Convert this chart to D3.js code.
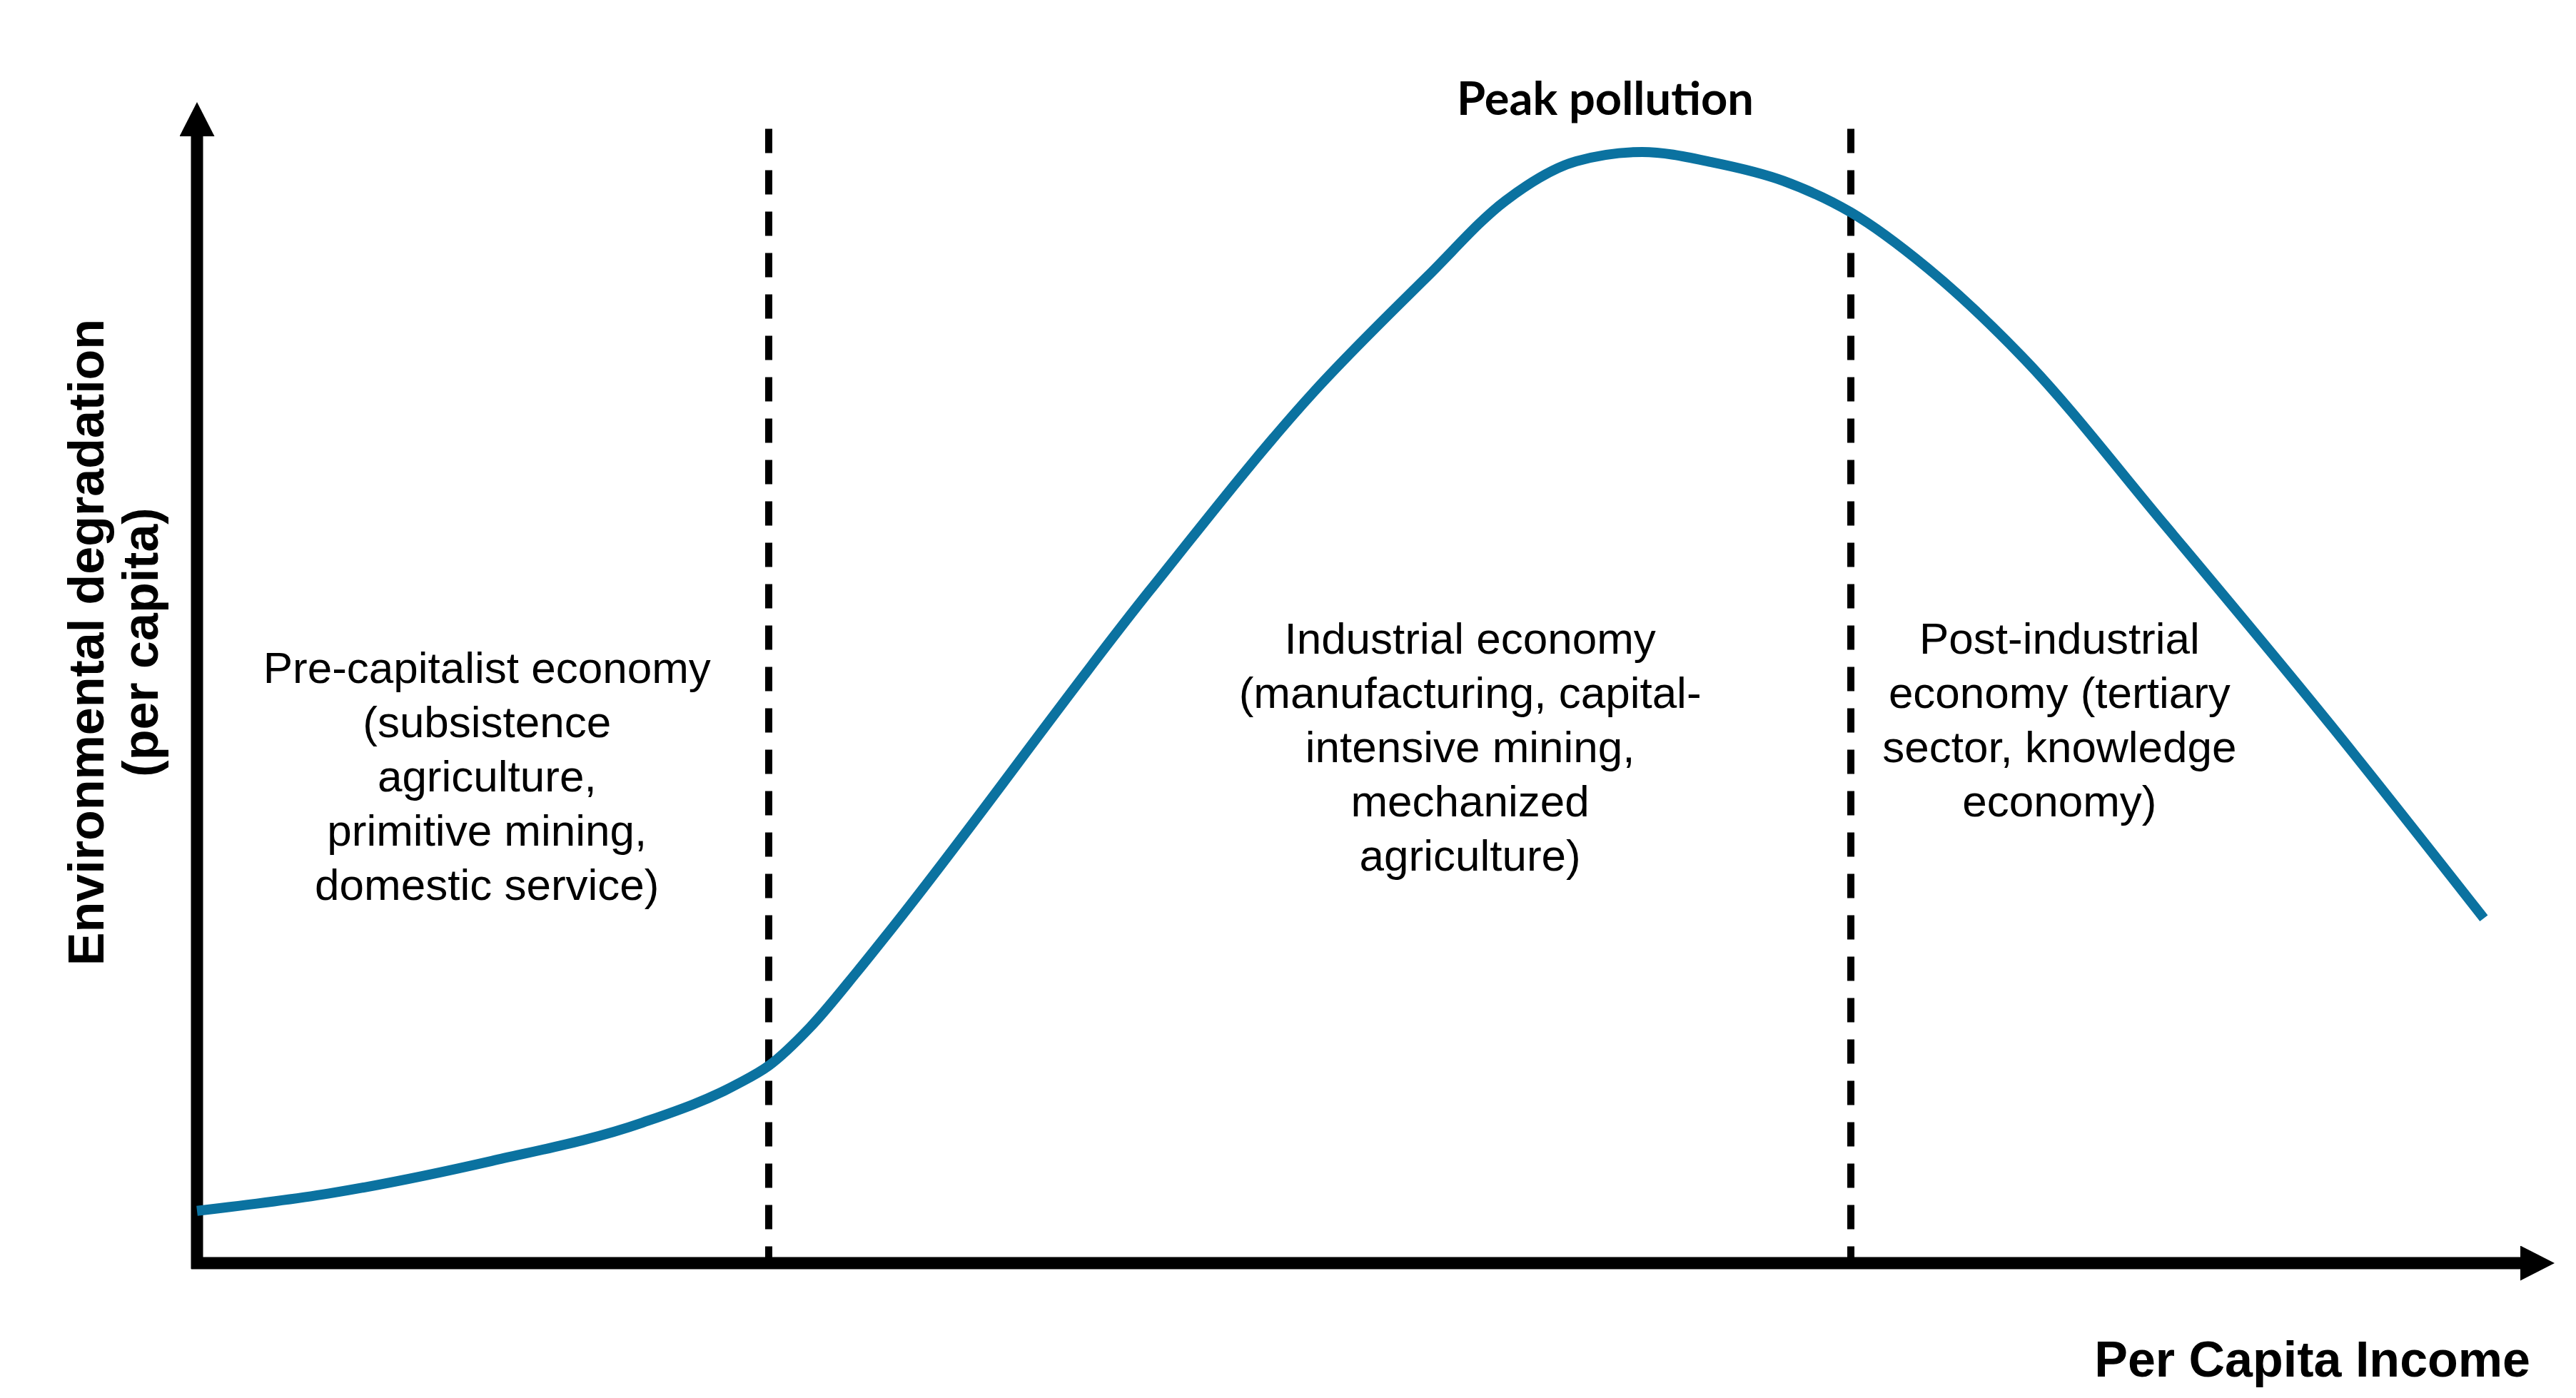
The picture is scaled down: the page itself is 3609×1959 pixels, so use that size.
<!DOCTYPE html>
<html>
<head>
<meta charset="utf-8">
<script src="https://cdn.jsdelivr.net/npm/d3@7"></script>
<style>
  body { margin: 0; background: #fff; }
  .regionLabel { font-family: "Liberation Sans", Arial, sans-serif; font-size: 62px; fill: #000; }
  .axisLabel { font-family: "Liberation Sans", Arial, sans-serif; font-size: 70px; font-weight: bold; fill: #000; }
  .peakLabel { font-family: Lato, "Open Sans", sans-serif; font-size: 65px; font-weight: bold; fill: #000; }
</style>
</head>
<body>
<div id="chart"></div>
<script>

// DATA (income and degradation in arbitrary units 0-100)

const income = [0, 5.6, 12.5, 18.9, 22.9, 24.25, 26.0, 28.0, 29.5, 40.4, 47.4, 52.2, 55.5, 58.5, 61.3, 64.3, 67.3, 70.15, 73.4, 77.4, 83.5, 90.6, 97.0];
const degradation = [4.5, 6.0, 8.8, 12.1, 15.4, 17.0, 20.3, 25.1, 28.9, 57.9, 75.1, 85.0, 91.5, 94.9, 95.7, 94.8, 93.2, 90.5, 85.7, 78.1, 63.5, 46.1, 29.7];

const stageBoundaries = [24.25, 70.15];
const stageCenters = [12.3, 54.0, 79.0];
const stageLabels = [
    ["Pre-capitalist economy", "(subsistence", "agriculture,", "primitive mining,", "domestic service)"],
    ["Industrial economy", "(manufacturing, capital-", "intensive mining,", "mechanized", "agriculture)"],
    ["Post-industrial", "economy (tertiary", "sector, knowledge", "economy)"]
];

const peakLabel = "Peak pollution";
const xLabel = "Per Capita Income";
const yLabel = ["Environmental degradation", "(per capita)"];

// MAKE SVG CANVAS

const width = 3609;
const height = 1959;
const svg = d3.select("#chart")
    .append("svg")
    .attr("width", width)
    .attr("height", height);

// SCALES

const xScale = d3.scaleLinear()
    .domain([0, 100])
    .range([276, 3579]);

const yScale = d3.scaleLinear()
    .domain([0, 100])
    .range([1770, 143]);

// ARROW HEADS

const defs = svg.append("defs");
defs.append("marker")
    .attr("id", "arrow")
    .attr("markerUnits", "userSpaceOnUse")
    .attr("markerWidth", 50)
    .attr("markerHeight", 50)
    .attr("refX", 0)
    .attr("refY", 24.5)
    .attr("orient", "auto")
    .append("path")
    .attr("d", "M0,0 L48,24.5 L0,49 Z")
    .attr("fill", "#000");

// STAGE DIVIDERS

svg.selectAll(".divider")
    .data(stageBoundaries)
    .enter()
    .append("line")
    .attr("class", "divider")
    .attr("x1", function(d) { return xScale(d); })
    .attr("x2", function(d) { return xScale(d); })
    .attr("y1", yScale(97.7))
    .attr("y2", yScale(0))
    .attr("stroke", "#000")
    .attr("stroke-width", 10)
    .attr("stroke-dasharray", "34,24");

// AXES

svg.append("line")
    .attr("x1", xScale(0))
    .attr("y1", yScale(0) + 8)
    .attr("x2", xScale(0))
    .attr("y2", yScale(100) + 48)
    .attr("stroke", "#000")
    .attr("stroke-width", 17)
    .attr("marker-end", "url(#arrow)");

svg.append("line")
    .attr("x1", xScale(0) - 8)
    .attr("y1", yScale(0))
    .attr("x2", xScale(100) - 48)
    .attr("y2", yScale(0))
    .attr("stroke", "#000")
    .attr("stroke-width", 17)
    .attr("marker-end", "url(#arrow)");

// CURVE

const points = income.map(function(d, i) { return [d, degradation[i]]; });

const line = d3.line()
    .x(function(d) { return xScale(d[0]); })
    .y(function(d) { return yScale(d[1]); })
    .curve(d3.curveMonotoneX);

svg.append("path")
    .datum(points)
    .attr("d", line)
    .attr("fill", "none")
    .attr("stroke", "#0b72a0")
    .attr("stroke-width", 14);

// LABELS

const firstBaseline = [957, 916, 916];
const lineGap = 76;

stageLabels.forEach(function(lines, i) {
    svg.append("text")
        .attr("class", "regionLabel")
        .attr("text-anchor", "middle")
        .selectAll("tspan")
        .data(lines)
        .enter()
        .append("tspan")
        .attr("x", xScale(stageCenters[i]))
        .attr("y", function(d, j) { return firstBaseline[i] + j * lineGap; })
        .text(function(d) { return d; });
});

svg.append("text")
    .attr("class", "peakLabel")
    .attr("x", 2249)
    .attr("y", 161)
    .attr("text-anchor", "middle")
    .text(peakLabel);

svg.append("text")
    .attr("class", "axisLabel")
    .attr("x", 3545)
    .attr("y", 1929)
    .attr("text-anchor", "end")
    .text(xLabel);

svg.append("text")
    .attr("class", "axisLabel")
    .attr("transform", "translate(145,900) rotate(-90)")
    .attr("text-anchor", "middle")
    .selectAll("tspan")
    .data(yLabel)
    .enter()
    .append("tspan")
    .attr("x", 0)
    .attr("y", function(d, j) { return j * 76; })
    .text(function(d) { return d; });

</script>
</body>
</html>
